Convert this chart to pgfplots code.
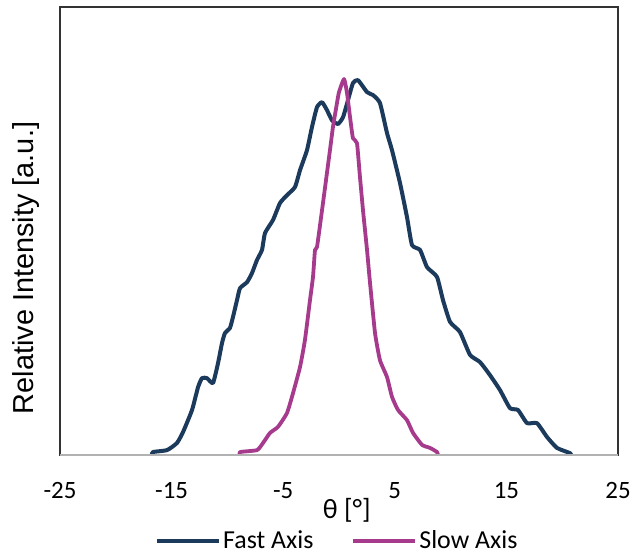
\documentclass[border=0pt]{standalone}
\usepackage{pgfplots}
\pgfplotsset{compat=1.18}
\usetikzlibrary{calc}
\usepackage{fontspec}
\setmainfont{Carlito}
\newfontfamily\arialfont{Liberation Sans}
\definecolor{fastc}{HTML}{1B3A5C}
\definecolor{slowc}{HTML}{A63B8E}
\begin{document}
\begin{tikzpicture}
\begin{axis}[
  name=ax,
  scale only axis,
  width=558bp, height=448bp,
  xmin=-25, xmax=25, ymin=0, ymax=1.195,
  xtick={-25,-15,-5,5,15,25},
  xticklabels={-25,-15,-5,5,15,25},
  ytick=\empty,
  major tick length=0pt,
  axis line style={draw=black!80, line width=1.3bp},
  xticklabel style={font=\fontsize{25}{29}\selectfont, anchor=center, yshift=-36bp},
  xlabel={θ [°]},
  xlabel style={font=\fontsize{28}{32}\selectfont, at={(axis description cs:0.514,-0.123)}, anchor=center},
  ylabel={Relative Intensity [a.u.]},
  ylabel style={font=\arialfont\fontsize{29}{34}\selectfont, at={(axis description cs:-0.061,0.4174)}, anchor=center},
  legend columns=2,
  legend style={draw=none, fill=none, at={(axis description cs:0.497,-0.191)}, anchor=center,
    inner ysep=0pt, font=\fontsize{26}{30}\selectfont, /tikz/every even column/.append style={column sep=36bp}},
  legend image code/.code={\draw[#1, line width=4bp] (0bp,0bp) -- (62bp,0bp);},
]
\addplot[fastc, line width=4bp, line join=round, smooth, tension=0.3] coordinates {
(-16.76,0) (-16.67,0.008) (-15.41,0.013) (-14.52,0.032) (-13.98,0.061) (-13.17,0.12)
(-12.63,0.181) (-12.28,0.205) (-11.83,0.205) (-11.29,0.192) (-10.84,0.245) (-10.48,0.299)
(-10.22,0.325) (-9.77,0.339) (-9.50,0.368) (-9.14,0.413) (-8.87,0.445) (-8.24,0.461)
(-7.80,0.485) (-7.35,0.52) (-6.90,0.547) (-6.63,0.592) (-5.91,0.627) (-5.29,0.672)
(-4.66,0.693) (-3.94,0.715) (-3.49,0.76) (-2.87,0.813) (-2.42,0.875) (-1.97,0.928)
(-1.52,0.941) (-1.08,0.92) (-0.63,0.893) (-0.09,0.883) (0.36,0.901) (0.81,0.947)
(1.25,0.992) (1.70,1.0) (2.51,0.968) (3.05,0.96) (3.67,0.939) (4.30,0.859)
(4.75,0.813) (5.47,0.725) (6.09,0.635) (6.54,0.56) (7.26,0.547) (7.89,0.501)
(8.78,0.475) (9.32,0.413) (9.95,0.355) (10.84,0.328) (11.74,0.267) (12.63,0.248)
(13.53,0.213) (14.43,0.173) (15.32,0.125) (16.04,0.12) (16.85,0.085) (17.74,0.085)
(18.64,0.048) (19.53,0.019) (20.70,0.005) (20.79,0)
};
\addlegendentry{Fast Axis}
\addplot[slowc, line width=3.8bp, line join=round, smooth, tension=0.3] coordinates {
(-8.87,0) (-8.87,0.008) (-7.35,0.013) (-6.81,0.032) (-6.18,0.059) (-5.47,0.075)
(-4.66,0.112) (-4.12,0.165) (-3.49,0.235) (-3.05,0.307) (-2.60,0.413) (-2.33,0.475)
(-2.15,0.547) (-1.97,0.555) (-1.52,0.653) (-1.08,0.752) (-0.81,0.813) (-0.54,0.875)
(-0.18,0.939) (0.0,0.968) (0.45,1.003) (0.72,0.965) (0.99,0.901) (1.25,0.845)
(1.61,0.832) (1.88,0.741) (2.15,0.653) (2.51,0.547) (2.78,0.459) (3.23,0.325)
(3.67,0.253) (4.30,0.208) (4.75,0.155) (5.29,0.12) (6.09,0.093) (6.63,0.059)
(7.44,0.027) (8.15,0.019) (8.78,0.008) (8.87,0)
};
\addlegendentry{Slow Axis}
\draw[gray!60, line width=1.5bp] (rel axis cs:0,0) -- (rel axis cs:1,0);
\end{axis}
\pgfresetboundingbox
\path[use as bounding box] ($(ax.south west)+(-60bp,-101bp)$) rectangle ($(ax.north east)+(13bp,7bp)$);
\end{tikzpicture}
\end{document}
